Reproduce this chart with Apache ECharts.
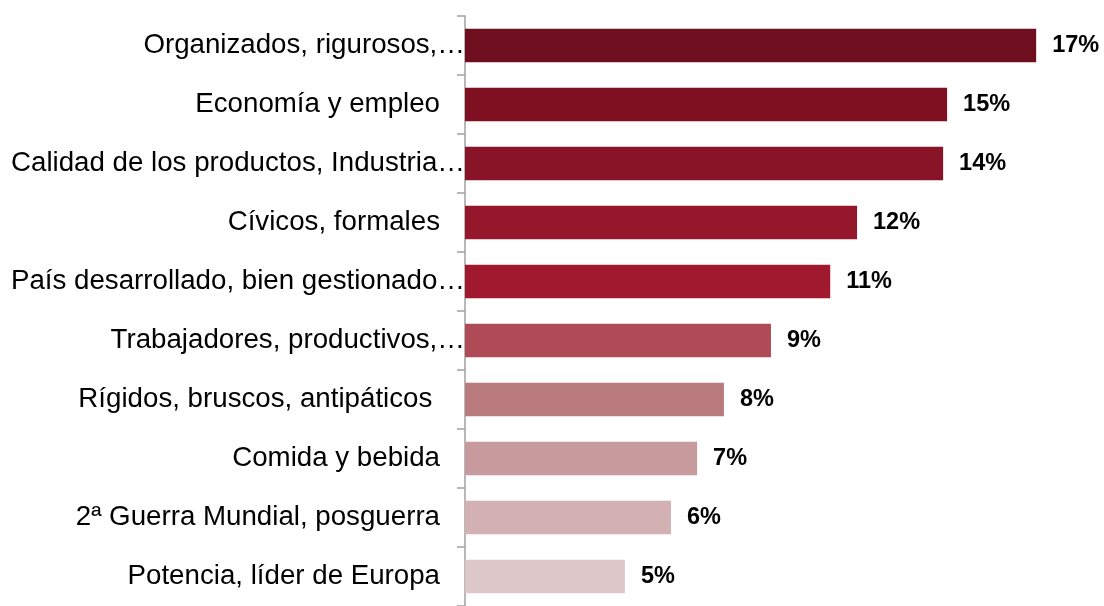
<!DOCTYPE html>
<html>
<head>
<meta charset="utf-8">
<script src="https://cdn.jsdelivr.net/npm/echarts@6/dist/echarts.min.js"></script>
<style>
html,body{margin:0;padding:0;background:#fff;}
#chart{width:1104px;height:606px;}
</style>
</head>
<body>
<div id="chart"></div>
<script>
const categories = [
  "Organizados, rigurosos,…",
  "Economía y empleo",
  "Calidad de los productos, Industria…",
  "Cívicos, formales",
  "País desarrollado, bien gestionado…",
  "Trabajadores, productivos,…",
  "Rígidos, bruscos, antipáticos ",
  "Comida y bebida",
  "2ª Guerra Mundial, posguerra",
  "Potencia, líder de Europa"
];
const values = [17.25, 14.56, 14.44, 11.84, 11.03, 9.24, 7.82, 7.01, 6.22, 4.83];
const barColors = ["#6E0E1E","#7E1022","#8A1427","#94172B","#A0192E","#AE4B56","#BA7B7E","#C79B9D","#D3B1B3","#DFC8CA"];

const FONT = 'Liberation Sans, Arial, Helvetica, sans-serif';
const chart = echarts.init(document.getElementById('chart'));
chart.setOption({
  animation: false,
  backgroundColor: '#fff',
  grid: { left: 465, top: 16, width: 596, height: 596, containLabel: false },
  xAxis: { type: 'value', min: 0, max: 18, show: false },
  yAxis: {
    type: 'category',
    inverse: true,
    data: categories,
    axisLine: { show: true, lineStyle: { color: '#A0A0A0', width: 1.5 } },
    axisTick: { show: true, length: 8, lineStyle: { color: '#A0A0A0', width: 1.5 } },
    axisLabel: {
      margin: 0,
      color: '#000',
      fontFamily: FONT,
      fontSize: 27.7,
      formatter: v => v.endsWith('…') ? '{t|' + v + '}' : '{p|' + v + '}',
      rich: {
        t: { fontSize: 27.7, color: '#000', fontFamily: FONT },
        p: { fontSize: 27.7, color: '#000', fontFamily: FONT, padding: [0, 25, 0, 0] }
      }
    },
    splitLine: { show: false }
  },
  series: [{
    type: 'bar',
    data: values.map((v, i) => ({ value: v, itemStyle: { color: barColors[i] } })),
    barWidth: '57%',
    label: {
      show: true,
      position: 'right',
      distance: 16,
      color: '#000',
      fontWeight: 'bold',
      fontSize: 23.5,
      fontFamily: FONT,
      formatter: p => Math.round(p.value) + '%'
    }
  }]
});
</script>
</body>
</html>
